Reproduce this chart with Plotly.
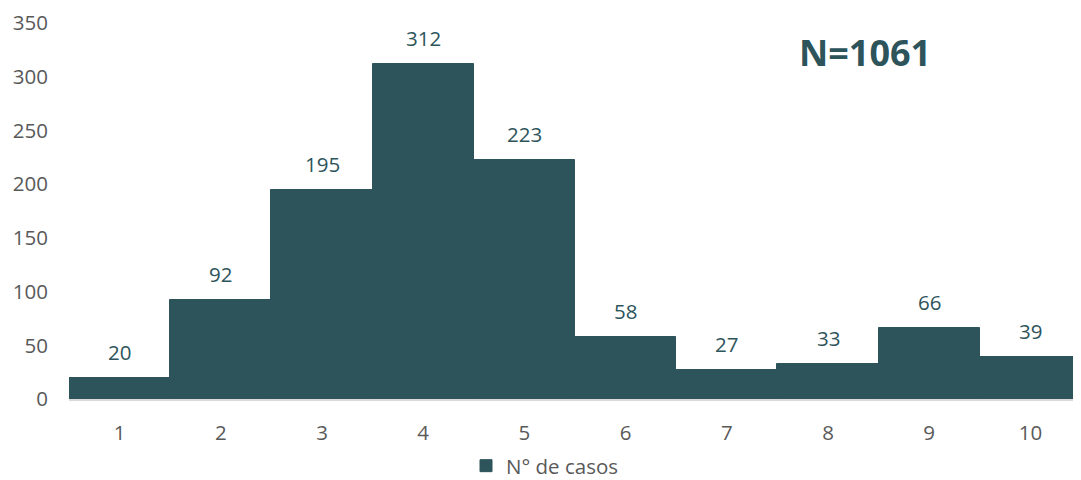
import plotly.graph_objects as go

categorias = [1, 2, 3, 4, 5, 6, 7, 8, 9, 10]
casos = [20, 92, 195, 312, 223, 58, 27, 33, 66, 39]
total_texto = 'N=1061'

color_barra = '#2D545B'
fuente = 'Open Sans'

fig = go.Figure()

fig.add_trace(go.Bar(
    x=categorias,
    y=casos,
    name='N° de casos',
    marker=dict(color=color_barra, line=dict(color=color_barra, width=1)),
))

# etiquetas de datos encima de cada barra
for cat, val in zip(categorias, casos):
    fig.add_annotation(
        x=cat, y=val, text=str(val), showarrow=False,
        yanchor='bottom', yshift=10,
        font=dict(family=fuente, size=20.5, color=color_barra),
    )

fig.add_annotation(
    x=0.787, y=0.921, xref='paper', yref='paper',
    xanchor='center', yanchor='middle',
    text='<b>' + total_texto + '</b>', showarrow=False,
    font=dict(family=fuente, size=36, color=color_barra),
)

# la página tiene 8px de margen en el body
fig.update_layout(
    width=1073,
    height=472,
    margin=dict(l=61, r=0, t=14, b=78),
    plot_bgcolor='white',
    paper_bgcolor='white',
    bargap=0,
    font=dict(family=fuente, size=20.5, color='#595959'),
    showlegend=True,
    legend=dict(
        orientation='h', xref='container', x=0.5, xanchor='center',
        yref='container', y=0.03, yanchor='middle',
        font=dict(size=20.5, color='#595959'),
    ),
)

fig.update_xaxes(
    range=[0.5, 10.5], dtick=1,
    showline=True, linecolor='#D9D9D9', linewidth=2,
    showgrid=False, ticks='', ticklabelstandoff=14,
)
fig.update_yaxes(
    range=[0, 350], dtick=50, showgrid=False, zeroline=False,
    ticks='', ticklabelstandoff=20, ticklabeloverflow='allow',
)

fig.write_html('out.html')
